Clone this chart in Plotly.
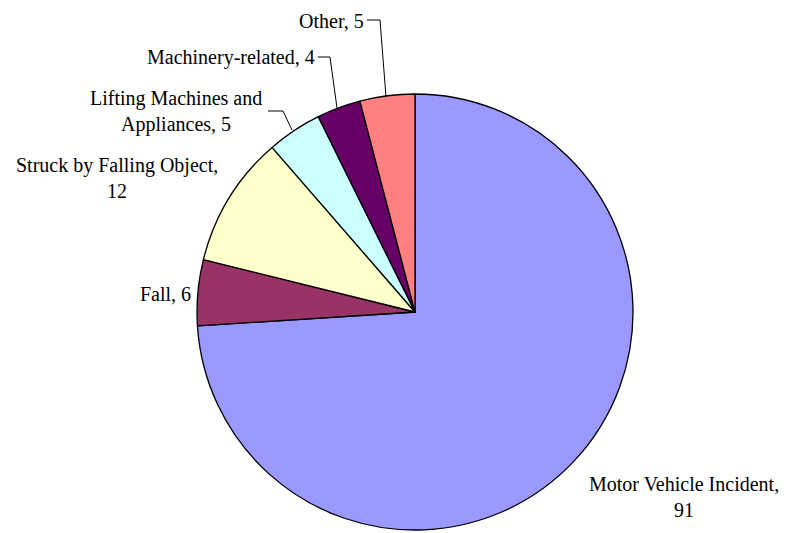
import plotly.graph_objects as go

labels = ["Motor Vehicle Incident", "Fall", "Struck by Falling Object",
          "Lifting Machines and Appliances", "Machinery-related", "Other"]
values = [91, 6, 12, 5, 4, 5]
colors = ["#9999FF", "#993366", "#FFFFCC", "#CCFFFF", "#660066", "#FF8080"]

# label display text (line breaks as in the reference)
label_text = ["Motor Vehicle Incident,<br>91", "Fall, 6", "Struck by Falling Object,<br>12",
              "Lifting Machines and<br>Appliances, 5", "Machinery-related, 4", "Other, 5"]

W, H = 789, 533
OFF = 8  # page body margin


def px(x):
    return (x - OFF) / W


def py(y):
    return 1 - (y - OFF) / H


fig = go.Figure(go.Pie(
    labels=labels,
    values=values,
    marker=dict(colors=colors, line=dict(color="black", width=1.3)),
    sort=False,
    direction="clockwise",
    rotation=0,
    textinfo="none",
    hoverinfo="label+value",
    showlegend=False,
    domain=dict(x=[px(197), px(633)], y=[py(530), py(94)]),
))

font = dict(family="Liberation Serif, Times New Roman, serif", size=20, color="black")

# label placements (pixel centres / anchors)
placements = [
    (684, 497, "center"),
    (165, 294, "center"),
    (117, 178, "center"),
    (176, 112, "center"),
    (316, 58, "right"),
    (365, 21, "right"),
]
for txt, (x, y, anchor) in zip(label_text, placements):
    fig.add_annotation(x=px(x), y=py(y), xref="paper", yref="paper", text=txt,
                       showarrow=False, font=font, xanchor=anchor, yanchor="middle",
                       align="center", borderpad=0)

leaders = [
    [(268, 111), (283, 111), (292, 130)],
    [(318, 57), (330, 57), (337, 108)],
    [(367, 20), (380, 20), (386, 97)],
]
for pts in leaders:
    path = "M " + " L ".join(f"{px(a)},{py(b)}" for a, b in pts)
    fig.add_shape(type="path", xref="paper", yref="paper", path=path,
                  line=dict(color="black", width=1))

fig.update_layout(
    width=W, height=H,
    margin=dict(l=0, r=0, t=0, b=0),
    paper_bgcolor="white",
    plot_bgcolor="white",
)

fig.write_html("out.html")
